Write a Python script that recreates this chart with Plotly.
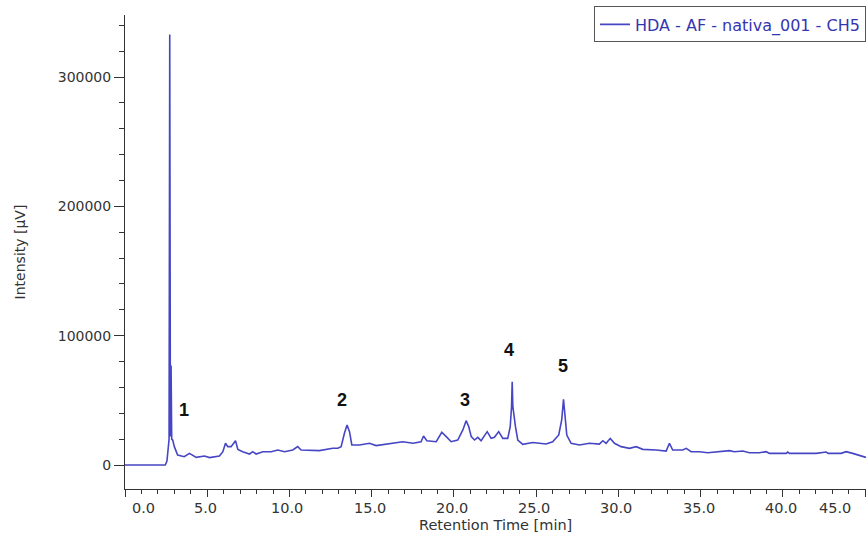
import plotly.graph_objects as go

# Chromatogram: retention time (min) vs detector intensity (µV)
retention_time = [
    0.0, 2.45, 2.55, 2.62, 2.68, 2.72, 2.76, 2.80, 2.84, 2.90, 3.00, 3.20, 3.60,
    3.92, 4.33, 4.83, 5.14, 5.74, 5.95, 6.11, 6.25, 6.45, 6.72, 6.86, 7.16, 7.57,
    7.77, 7.97, 8.38, 8.89, 9.29, 9.70, 10.20, 10.50, 10.71, 11.82, 12.63, 12.94,
    13.14, 13.34, 13.50, 13.65, 13.79, 14.26, 14.86, 15.27, 16.08, 16.89, 17.50,
    18.00, 18.15, 18.35, 18.92, 19.26, 19.53, 19.83, 20.23, 20.54, 20.74, 20.90,
    21.05, 21.25, 21.45, 21.65, 22.02, 22.26, 22.46, 22.72, 22.97, 23.27, 23.42,
    23.50, 23.54, 23.58, 23.74, 23.88, 24.18, 24.79, 25.60, 26.00, 26.37, 26.55,
    26.66, 26.76, 26.86, 27.12, 27.63, 28.24, 28.84, 29.05, 29.25, 29.50, 29.76,
    30.16, 30.67, 31.08, 31.48, 32.29, 32.90, 33.10, 33.30, 33.91, 34.12, 34.42,
    34.92, 35.43, 36.14, 36.75, 37.05, 37.56, 37.96, 38.57, 38.98, 39.18, 40.20,
    40.29, 40.40, 42.02, 42.63, 42.75, 43.54, 43.84, 44.24, 44.65, 45.05,
]
intensity = [
    0, 0, 3000, 14000, 20000, 333000, 22000, 77000, 20000, 19300, 14200, 7700, 6400,
    9000, 5900, 6900, 5700, 6900, 10300, 16800, 14200, 14200, 18800, 12100, 10300, 8500,
    10300, 8500, 10300, 10300, 11600, 10300, 11600, 14200, 11600, 11100, 12900, 12900,
    14200, 24500, 30900, 25800, 15500, 15500, 16800, 15000, 16800, 18000, 16800,
    18000, 22400, 18800, 18000, 25300, 21900, 18000, 19300, 27100, 34300, 29600,
    21900, 19300, 21400, 18800, 25800, 20600, 21400, 25800, 20600, 20600, 29600,
    45100, 64400, 45100, 29600, 19300, 16000, 17400, 16200, 18000, 23200, 34800,
    50800, 36100, 23200, 16800, 15500, 16800, 16200, 18800, 16800, 20600, 16800,
    14200, 12900, 14200, 12100, 11600, 10800, 16800, 11600, 11600, 12900, 10300,
    10300, 9500, 10300, 11100, 10300, 10800, 9500, 9500, 10300, 9000, 9000,
    10000, 9000, 9000, 10000, 9000, 9000, 10300, 9000, 7700, 5900,
]

# Numbered peaks and where their labels sit
peak_names = ["1", "2", "3", "4", "5"]
peak_label_time = [3.56, 13.22, 20.70, 23.37, 26.65]
peak_label_intensity = [42500, 50300, 50300, 88900, 76600]

x_tick_values = [0, 5, 10, 15, 20, 25, 30, 35, 40, 45]
x_tick_labels = ["0.0", "5.0", "10.0", "15.0", "20.0", "25.0", "30.0", "35.0", "40.0", "45.0"]
y_tick_values = [0, 100000, 200000, 300000]
y_tick_labels = ["0", "100000", "200000", "300000"]

trace_name = "HDA - AF - nativa_001 - CH5"
line_color = "#4646c4"
axis_color = "#333333"
text_color = "#333333"
base_font = "DejaVu Sans, Verdana, sans-serif"

fig = go.Figure()
fig.add_trace(go.Scatter(
    x=retention_time, y=intensity, mode="lines", name=trace_name,
    line=dict(color=line_color, width=1.6), showlegend=True,
))

annotations = []
for name, t, v in zip(peak_names, peak_label_time, peak_label_intensity):
    annotations.append(dict(
        x=t, y=v, xref="x", yref="y", text="<b>%s</b>" % name, showarrow=False,
        font=dict(family="Liberation Sans, Arial, sans-serif", size=18, color="#111111"),
    ))

# x tick labels: the end labels are nudged inward so they stay inside the frame
label_nudge = {0: 18, 45: -30}
for val, lab in zip(x_tick_values, x_tick_labels):
    annotations.append(dict(
        x=val, y=0, xref="x", yref="paper", text=lab, showarrow=False,
        xanchor="center", yanchor="middle", yshift=-19,
        xshift=label_nudge.get(val, -2),
        font=dict(family=base_font, size=14.5, color=text_color),
    ))
annotations.append(dict(
    x=0.5, y=0, xref="paper", yref="paper", text="Retention Time [min]",
    showarrow=False, xanchor="center", yanchor="middle", yshift=-36,
    font=dict(family=base_font, size=14.5, color=text_color),
))

fig.update_layout(
    width=868, height=536,
    margin=dict(l=125, r=2, t=15, b=47),
    paper_bgcolor="white", plot_bgcolor="white",
    font=dict(family=base_font, color=text_color),
    annotations=annotations,
    legend=dict(
        x=1, y=1.018, xanchor="right", yanchor="top",
        bgcolor="white", bordercolor="#555555", borderwidth=1,
        font=dict(family=base_font, size=16, color="#3535b0"),
        itemwidth=30, tracegroupgap=0,
    ),
    xaxis=dict(
        range=[0, 45.05], showgrid=False, zeroline=False,
        showline=True, linecolor=axis_color, linewidth=1,
        tickmode="array", tickvals=x_tick_values, showticklabels=False,
        ticks="outside", ticklen=7, tickcolor=axis_color,
        minor=dict(dtick=1, ticks="outside", ticklen=4, tickcolor=axis_color, showgrid=False),
    ),
    yaxis=dict(
        range=[-18560, 348000], showgrid=False, zeroline=False,
        showline=True, linecolor=axis_color, linewidth=1,
        tickmode="array", tickvals=y_tick_values, ticktext=y_tick_labels,
        ticks="outside", ticklen=10, tickcolor=axis_color,
        tickfont=dict(family=base_font, size=14, color=text_color),
        minor=dict(dtick=20000, tick0=0, ticks="outside", ticklen=5, tickcolor=axis_color, showgrid=False),
        title=dict(text="Intensity [μV]", standoff=28,
                   font=dict(family=base_font, size=14, color=text_color)),
    ),
)

fig.write_html("out.html")
